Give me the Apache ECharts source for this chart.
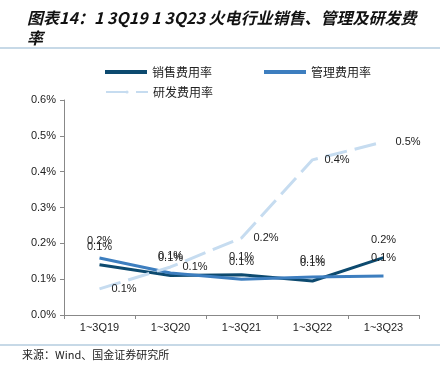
<!DOCTYPE html>
<html><head><meta charset="utf-8">
<script src="https://cdn.jsdelivr.net/npm/echarts@6/dist/echarts.min.js"></script>
<style>html,body{margin:0;padding:0;background:#fff}#c{width:448px;height:385px}</style>
</head><body><div id="c"></div>
<script>
const categories = ['1~3Q19','1~3Q20','1~3Q21','1~3Q22','1~3Q23'];
const salesRate = [0.14, 0.11, 0.112, 0.095, 0.16];
const mgmtRate = [0.159, 0.117, 0.10, 0.106, 0.109];
const rdRate = [0.073, 0.134, 0.215, 0.433, 0.483];
const yTicks = ['0.0%','0.1%','0.2%','0.3%','0.4%','0.5%','0.6%'];
const seriesNames = ['销售费用率','管理费用率','研发费用率'];
const titleText = '图表14：1 3Q19 1 3Q23 火电行业销售、管理及研发费\n率';
const sourceText = '来源：Wind、国金证券研究所';

const chart = echarts.init(document.getElementById('c'));
const fmt = p => p.value.toFixed(1) + '%';
const lblFont = {fontSize: 11, color: '#222', fontFamily: 'Liberation Sans, Arial'};
const hidden = {symbol: 'circle', symbolSize: 0, showSymbol: true};
chart.setOption({
  animation: false,
  title: {text: titleText, left: 22, top: 3,
    textStyle: {fontSize: 16, fontStyle: 'italic', fontWeight: 'bold', color: '#111', lineHeight: 20,
      fontFamily: 'Noto Sans CJK SC'}},
  graphic: [
    {type: 'line', shape: {x1: 0, y1: 48, x2: 440, y2: 48}, style: {stroke: '#8fb3cf', lineWidth: 1}},
    {type: 'line', shape: {x1: 0, y1: 345, x2: 440, y2: 345}, style: {stroke: '#8fb3cf', lineWidth: 1}},
    {type: 'text', left: 22, top: 349, style: {text: sourceText, fontSize: 11, fill: '#222', fontFamily: 'Noto Sans CJK SC'}}
  ],
  legend: [
    {data: [seriesNames[0], seriesNames[1]], left: 100, top: 61, itemWidth: 42, itemHeight: 4, itemGap: 52,
      icon: 'rect', textStyle: {fontSize: 12, color: '#222', fontFamily: 'Noto Sans CJK SC'}},
    {data: [{name: seriesNames[2]}], left: 100, top: 81, itemWidth: 42, itemHeight: 4,
      textStyle: {fontSize: 12, color: '#222', fontFamily: 'Noto Sans CJK SC'}}
  ],
  grid: {left: 64, right: 29, top: 100, bottom: 70},
  xAxis: {type: 'category', data: categories, boundaryGap: true,
    axisLine: {lineStyle: {color: '#888'}}, axisTick: {show: true, alignWithLabel: false, lineStyle: {color: '#888'}, length: 4},
    axisLabel: {fontSize: 11, color: '#222', margin: 7, fontFamily: 'Liberation Sans, Arial'}},
  yAxis: {type: 'value', min: 0, max: 0.6, interval: 0.1,
    axisLine: {show: true, lineStyle: {color: '#888'}}, axisTick: {show: true, length: 4, lineStyle: {color: '#888'}},
    splitLine: {show: false},
    axisLabel: {fontSize: 11, color: '#222', margin: 8, fontFamily: 'Liberation Sans, Arial',
      formatter: (v) => yTicks[Math.round(v * 10)]}},
  series: [
    {name: seriesNames[0], type: 'line', data: salesRate, ...hidden, color: '#0d4a6f',
      lineStyle: {width: 3, color: '#0d4a6f'},
      label: {show: true, position: 'top', distance: 12, formatter: fmt, ...lblFont}},
    {name: seriesNames[1], type: 'line', data: mgmtRate, ...hidden, color: '#3d7ebf',
      lineStyle: {width: 3, color: '#3d7ebf'},
      label: {show: true, position: 'top', distance: 12, formatter: fmt, ...lblFont}},
    {name: seriesNames[2], type: 'line', data: rdRate, ...hidden, color: '#c6dcf0',
      lineStyle: {width: 3, color: '#c6dcf0', type: [22, 8]},
      label: {show: true, position: 'right', distance: 12, formatter: fmt, ...lblFont}}
  ]
});
</script></body></html>
